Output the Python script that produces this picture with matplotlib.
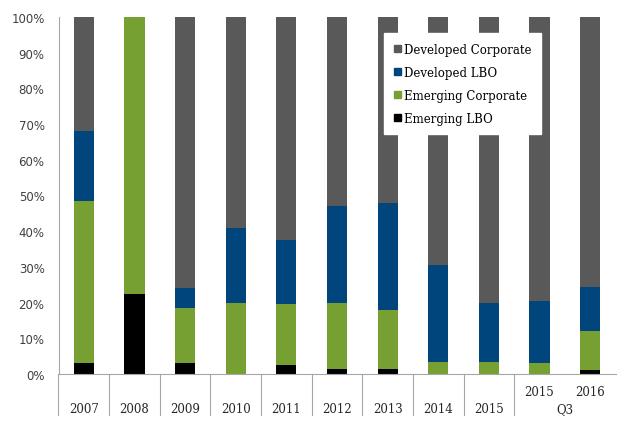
import numpy as np
import matplotlib.pyplot as plt
from matplotlib.patches import Patch
import matplotlib.transforms as mtransforms

top_labels = ["", "", "", "", "", "", "", "", "", "2015", "2016"]
bottom_labels = ["2007", "2008", "2009", "2010", "2011", "2012", "2013", "2014", "2015"]

emerging_lbo = [3.0, 22.5, 3.0, 0.0, 2.5, 1.5, 1.5, 0.0, 0.0, 0.0, 1.0]
emerging_corp = [45.5, 77.5, 15.5, 20.0, 17.0, 18.5, 16.5, 3.5, 3.5, 3.0, 11.0]
developed_lbo = [19.5, 0.0, 5.5, 21.0, 18.0, 27.0, 30.0, 27.0, 16.5, 17.5, 12.5]
developed_corp = [32.0, 0.0, 76.0, 59.0, 62.5, 53.0, 52.0, 69.5, 80.0, 79.5, 75.5]

c_dev_corp = "#595959"
c_dev_lbo = "#00457c"
c_em_corp = "#77a033"
c_em_lbo = "#000000"

fig = plt.figure(figsize=(6.21, 4.27), dpi=100)
ax = fig.add_axes([58.5 / 621, 52 / 427, 557 / 621, 357 / 427])

x = np.arange(len(emerging_lbo))
w = 0.4
b = np.zeros(len(x))
for vals, col in [(emerging_lbo, c_em_lbo), (emerging_corp, c_em_corp),
                  (developed_lbo, c_dev_lbo), (developed_corp, c_dev_corp)]:
    ax.bar(x, vals, w, bottom=b, color=col, zorder=2)
    b = b + np.array(vals)

ax.set_xlim(-0.5, len(x) - 0.5)
ax.set_ylim(0, 100)
ax.set_yticks(range(0, 101, 10))
ax.set_yticklabels([f"{v}%" for v in range(0, 101, 10)], color="#404040", fontsize=8.5)
ax.tick_params(axis="y", length=0, pad=10)
ax.set_xticks([])
for s in ["top", "right"]:
    ax.spines[s].set_visible(False)
ax.spines["left"].set_color("#a6a6a6")
ax.spines["bottom"].set_color("#a6a6a6")

# category separators and labels below the axis
trans = mtransforms.blended_transform_factory(ax.transData, ax.transAxes)
for sx in [-0.5, 0.5, 1.5, 2.5, 3.5, 4.5, 5.5, 6.5, 7.5, 8.5]:
    ax.plot([sx, sx], [0, -0.115], transform=trans, color="#a6a6a6", lw=0.8, clip_on=False)
for i, lab in enumerate(bottom_labels):
    ax.text(i, -0.098, lab, transform=trans, ha="center", va="center",
            family="DejaVu Serif", fontsize=8.5, color="#262626")
for i, lab in enumerate(top_labels):
    if lab:
        ax.text(i, -0.05, lab, transform=trans, ha="center", va="center",
                family="DejaVu Serif", fontsize=8.5, color="#262626")
ax.text(9.5, -0.098, "Q3", transform=trans, ha="center", va="center",
        family="DejaVu Serif", fontsize=8.5, color="#262626")

handles = [Patch(color=c_dev_corp, label="Developed Corporate"),
           Patch(color=c_dev_lbo, label="Developed LBO"),
           Patch(color=c_em_corp, label="Emerging Corporate"),
           Patch(color=c_em_lbo, label="Emerging LBO")]
leg = ax.legend(handles=handles, loc="upper left", bbox_to_anchor=(0.585, 0.955),
                frameon=True, fancybox=False, framealpha=1, edgecolor="white",
                prop={"family": "DejaVu Serif", "size": 8.5}, handlelength=0.6,
                handleheight=0.6, handletextpad=0.3, labelspacing=0.85,
                borderpad=0.8, borderaxespad=0)
leg.set_zorder(5)

fig.savefig("out.png", dpi=100)
